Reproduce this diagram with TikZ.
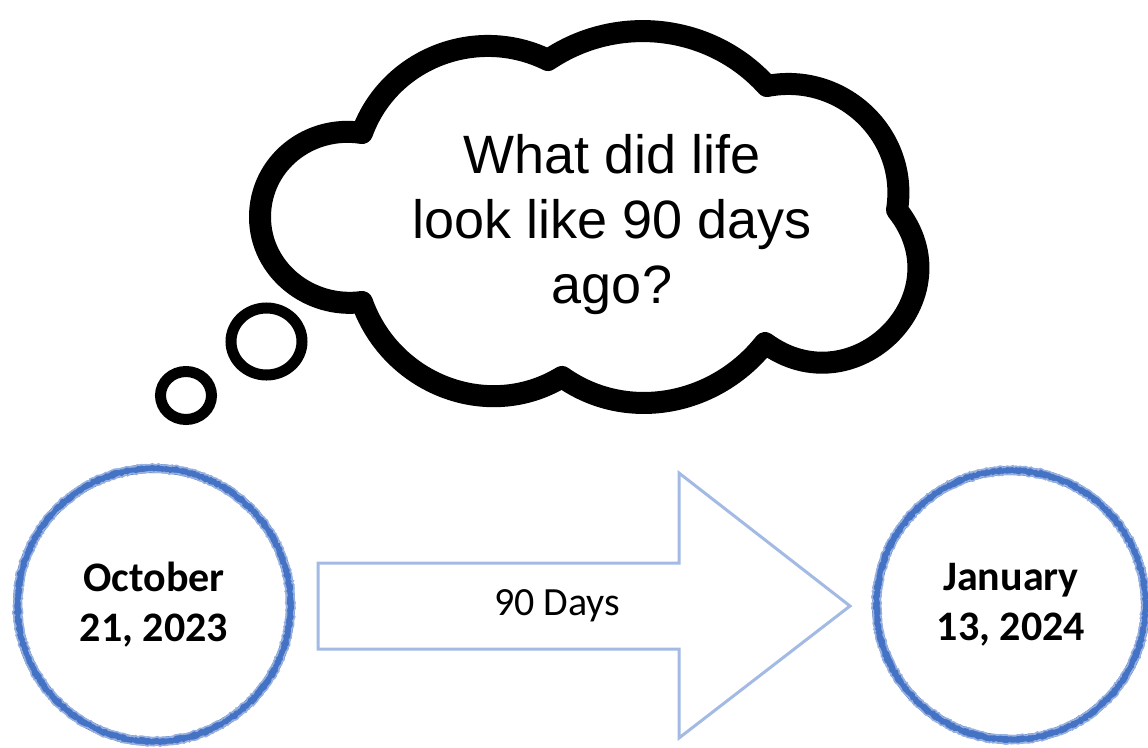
\documentclass[tikz,border=0pt]{standalone}
\usepackage{fontspec}
\setmainfont{Liberation Sans}
\newfontfamily\calibri{Carlito}
\usetikzlibrary{decorations.pathmorphing}
\definecolor{ringblue}{RGB}{68,114,196}
\definecolor{arrowblue}{RGB}{162,186,228}
\begin{document}
\begin{tikzpicture}[x=1pt,y=1pt,
  ring/.style={circle, draw=ringblue, line width=9pt, inner sep=0pt, align=center,
    font=\calibri\bfseries\fontsize{42}{50}\selectfont},
  fuzz/.style={draw=ringblue!55, line width=1.6pt,
    decorate, decoration={random steps, segment length=2pt, amplitude=0.9pt}},
  cloudline/.style={draw=black, line width=22pt, line join=round, fill=white},
  bubble/.style={draw=black, line width=11pt, fill=white},
  arrowshape/.style={draw=arrowblue, line width=3pt, fill=white, line join=miter},
]
\useasboundingbox (0,0) rectangle (1148,-747);

% thought bubbles
\draw[bubble] (266.5,-341.5) ellipse [x radius=35.5, y radius=33.5];
\draw[bubble] (186,-395.5) ellipse [x radius=25.5, y radius=24];

% cloud
\coordinate (c1) at (362,-133);
\coordinate (c2) at (548,-60);
\coordinate (c3) at (767,-86);
\coordinate (c4) at (897,-210);
\coordinate (c5) at (765,-343);
\coordinate (c6) at (562,-377);
\coordinate (c7) at (362,-302);
\coordinate (lm) at (260,-217);
\draw[cloudline] (c7)
  to[out=-172.3, in=-90, looseness=1.02] (lm)
  to[out=90, in=170.9, looseness=1.04] (c1)
  to[out=70, in=153.7, looseness=1.02] (c2)
  to[out=34, in=132, looseness=0.97] (c3)
  to[out=10.9, in=80.9, looseness=1.08] (c4)
  to[out=-51.4, in=-36.4, looseness=1.51] (c5)
  to[out=-128.2, in=-35.3, looseness=0.99] (c6)
  to[out=-148.7, in=-70.5, looseness=1.04] (c7) -- cycle;
\node[align=center, font=\fontsize{54}{65}\selectfont] (q) at (612,-225)
  {What did life\\look like 90 days\\ago?};

% arrow
\draw[arrowshape] (318,-563) -- (679,-563) -- (679,-473) -- (850,-606)
  -- (679,-738) -- (679,-649) -- (318,-649) -- cycle;
\node[font=\calibri\fontsize{40}{46}\selectfont] (days) at (557,-606) {90 Days};

% date circles
\node[ring, minimum size=273pt] (start) at (154,-605) {October\\21, 2023};
\node[ring, minimum size=269pt] (end) at (1011,-605) {January\\13, 2024};
\draw[fuzz] (start.center) circle [radius=140.5];
\draw[fuzz] (start.center) circle [radius=132.5];
\draw[fuzz] (end.center) circle [radius=138.5];
\draw[fuzz] (end.center) circle [radius=130.5];
\end{tikzpicture}
\end{document}
